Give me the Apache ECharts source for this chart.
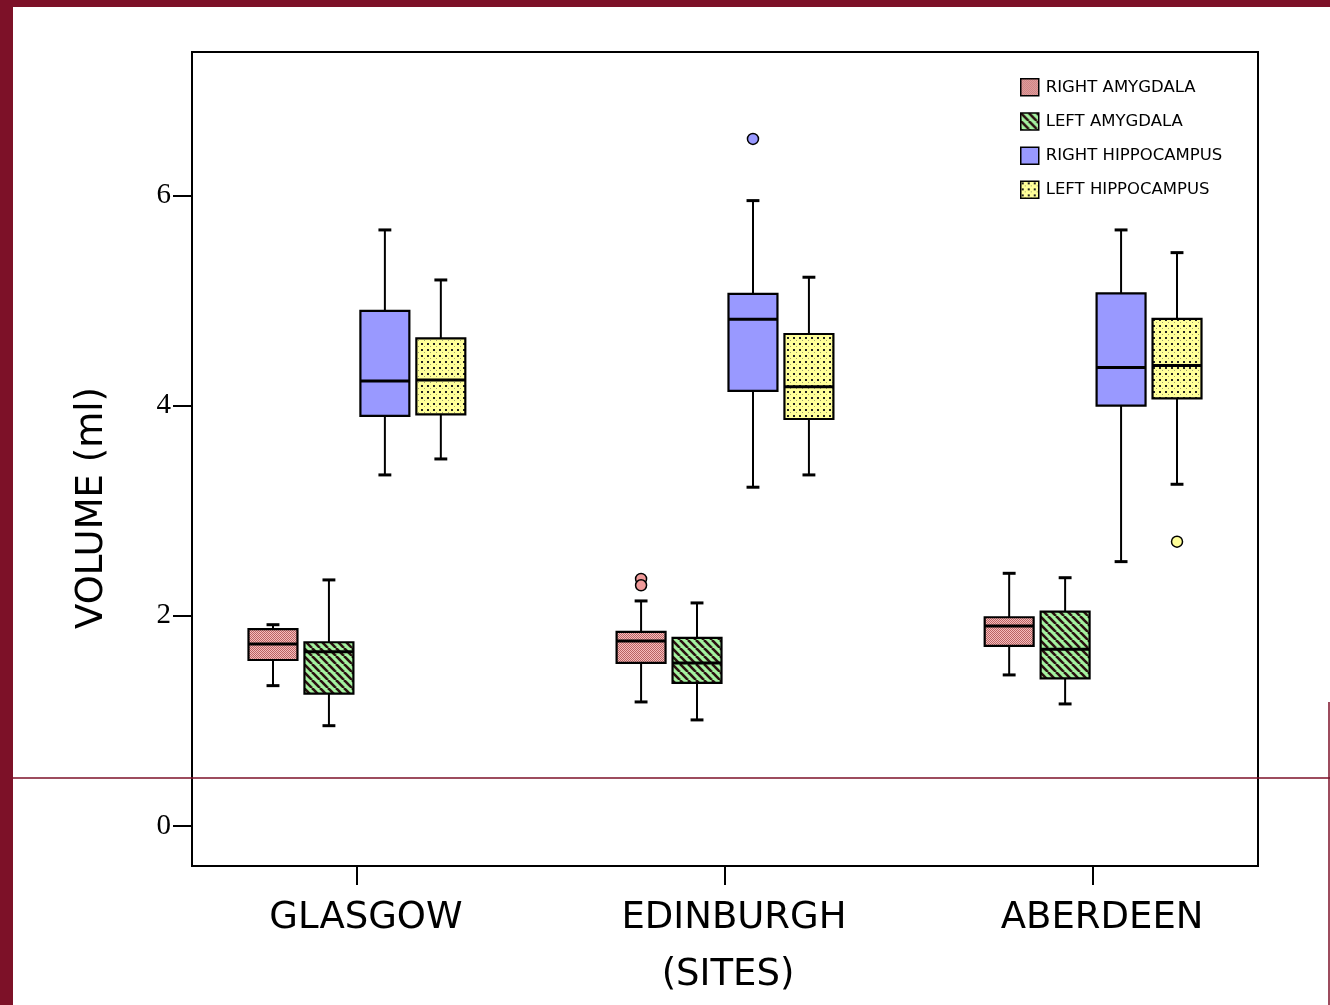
<!DOCTYPE html>
<html>
<head>
<meta charset="utf-8">
<script src="https://cdn.jsdelivr.net/npm/echarts@6/dist/echarts.min.js"></script>
<style>
  html, body { margin: 0; padding: 0; background: #fff; }
  #chart { width: 1330px; height: 1005px; }
</style>
</head>
<body>
<div id="chart"></div>
<script>
// sites on the x axis
var sites = ['GLASGOW', 'EDINBURGH', 'ABERDEEN'];
var yTicks = [0, 2, 4, 6];
var seriesNames = ['RIGHT AMYGDALA', 'LEFT AMYGDALA', 'RIGHT HIPPOCAMPUS', 'LEFT HIPPOCAMPUS'];

// per site: [low whisker, Q1, median, Q3, high whisker]
var rightAmygdala = [[1.335, 1.579, 1.732, 1.872, 1.915], [1.180, 1.551, 1.760, 1.846, 2.141], [1.437, 1.713, 1.903, 1.986, 2.404]];
var leftAmygdala = [[0.954, 1.259, 1.658, 1.748, 2.341], [1.009, 1.361, 1.551, 1.789, 2.122], [1.161, 1.405, 1.681, 2.039, 2.362]];
var rightHippocampus = [[3.340, 3.901, 4.234, 4.900, 5.671], [3.223, 4.139, 4.821, 5.062, 5.950], [2.515, 3.999, 4.361, 5.068, 5.671]];
var leftHippocampus = [[3.492, 3.917, 4.244, 4.640, 5.195], [3.340, 3.872, 4.180, 4.681, 5.221], [3.251, 4.069, 4.380, 4.824, 5.455]];

// outliers: [site index, value]
var rightAmygdalaOut = [[1, 2.35], [1, 2.29]];
var leftAmygdalaOut = [];
var rightHippocampusOut = [[1, 6.537]];
var leftHippocampusOut = [[2, 2.705]];

// layout: offset of each group inside a site, box and cap widths (x units)
var groupOffset = [-0.228, -0.076, 0.076, 0.228];
var boxWidth = 0.133;
var capWidth = 0.035;

function makePattern(size, draw) {
	var c = document.createElement('canvas');
	c.width = size; c.height = size;
	var ctx = c.getContext('2d');
	draw(ctx, size);
	return { image: c, repeat: 'repeat' };
}

var pinkFill = makePattern(2, function(ctx) {
	ctx.fillStyle = '#f6bcbc'; ctx.fillRect(0, 0, 2, 2);
	ctx.fillStyle = '#b86464'; ctx.fillRect(0, 0, 1, 1); ctx.fillRect(1, 1, 1, 1);
});
var greenFill = makePattern(8, function(ctx, s) {
	ctx.fillStyle = '#a4f2a0'; ctx.fillRect(0, 0, s, s);
	ctx.strokeStyle = '#2a1010'; ctx.lineWidth = 2.6;
	for (var k = -s; k <= s; k += s) {
		ctx.beginPath(); ctx.moveTo(k, 0); ctx.lineTo(k + s, s); ctx.stroke();
	}
});
var blueFill = '#9999ff';
var yellowFill = makePattern(6, function(ctx, s) {
	ctx.fillStyle = '#ffff99'; ctx.fillRect(0, 0, s, s);
	ctx.fillStyle = '#222'; ctx.fillRect(1, 1, 2, 2);
	ctx.fillStyle = '#a0a070'; ctx.fillRect(4, 4, 1, 1);
});
var fills = [pinkFill, greenFill, blueFill, yellowFill];
var dotColors = ['#f09a9a', '#a4f2a0', '#9999ff', '#ffff99'];

var boxData = [rightAmygdala, leftAmygdala, rightHippocampus, leftHippocampus];
var outData = [rightAmygdalaOut, leftAmygdalaOut, rightHippocampusOut, leftHippocampusOut];

function boxRenderer(g) {
	return function(params, api) {
		var x = api.value(0) + groupOffset[g];
		var half = api.size([boxWidth, 0])[0] / 2;
		var cap = api.size([capWidth, 0])[0] / 2;
		var low = api.coord([x, api.value(1)]);
		var q1 = api.coord([x, api.value(2)]);
		var med = api.coord([x, api.value(3)]);
		var q3 = api.coord([x, api.value(4)]);
		var high = api.coord([x, api.value(5)]);
		var line = { stroke: '#000', lineWidth: 2 };
		return {
			type: 'group',
			children: [
				{ type: 'line', shape: { x1: low[0], y1: low[1], x2: q1[0], y2: q1[1] }, style: line },
				{ type: 'line', shape: { x1: q3[0], y1: q3[1], x2: high[0], y2: high[1] }, style: line },
				{ type: 'line', shape: { x1: low[0] - cap, y1: low[1], x2: low[0] + cap, y2: low[1] }, style: { stroke: '#000', lineWidth: 3 } },
				{ type: 'line', shape: { x1: high[0] - cap, y1: high[1], x2: high[0] + cap, y2: high[1] }, style: { stroke: '#000', lineWidth: 3 } },
				{ type: 'rect', shape: { x: q3[0] - half, y: q3[1], width: half * 2, height: q1[1] - q3[1] },
					style: { fill: fills[g], stroke: '#000', lineWidth: 2.2 } },
				{ type: 'line', shape: { x1: med[0] - half, y1: med[1], x2: med[0] + half, y2: med[1] }, style: { stroke: '#000', lineWidth: 3 } }
			]
		};
	};
}

var series = [];
for (var i = 0; i < 4; i++) {
	series.push({
		name: seriesNames[i],
		type: 'custom',
		renderItem: boxRenderer(i),
		itemStyle: { color: fills[i] },
		encode: { x: 0, y: [1, 2, 3, 4, 5] },
		data: boxData[i].map(function(b, s) { return [s].concat(b); })
	});
	series.push({
		name: seriesNames[i],
		type: 'scatter',
		symbol: 'circle',
		symbolSize: 11,
		itemStyle: { color: dotColors[i], borderColor: '#000', borderWidth: 1.5, opacity: 1 },
		data: outData[i].map(function(o) { return [o[0] + groupOffset[i], o[1]]; })
	});
}

var maroon = '#7d1128';
var chart = echarts.init(document.getElementById('chart'));
chart.setOption({
	animation: false,
	backgroundColor: '#fff',
	grid: { left: 192, top: 52, width: 1066, height: 814, show: true, borderColor: '#000', borderWidth: 2 },
	legend: {
		orient: 'vertical',
		left: 1020,
		top: 78,
		padding: 0,
		itemWidth: 18,
		itemHeight: 17,
		itemGap: 15.7,
		selectedMode: false,
		textStyle: { fontFamily: 'DejaVu Sans', fontSize: 16.5, color: '#000', padding: [0, 0, 0, 2] },
		data: seriesNames.map(function(n, i) {
			return { name: n, icon: 'rect', itemStyle: { color: fills[i], borderColor: '#000', borderWidth: 1.5 } };
		})
	},
	xAxis: {
		type: 'value',
		min: -0.448,
		max: 2.448,
		name: '(SITES)',
		nameLocation: 'middle',
		nameGap: 91,
		nameTextStyle: { fontFamily: 'DejaVu Sans', fontSize: 37, color: '#000', padding: [0, 0, 0, 6] },
		axisLine: { show: false, onZero: false },
		splitLine: { show: false },
		axisTick: { show: true, length: 19, customValues: [0, 1, 2], lineStyle: { color: '#000', width: 2 } },
		axisLabel: {
			customValues: [0, 1, 2],
			margin: 34,
			padding: [0, 0, 0, 18],
			fontFamily: 'DejaVu Sans',
			fontSize: 37,
			color: '#000',
			formatter: function(v) { return sites[Math.round(v)]; }
		}
	},
	yAxis: {
		type: 'value',
		min: -0.381,
		max: 7.364,
		axisLine: { show: false, onZero: false },
		splitLine: { show: false },
		axisTick: { show: true, length: 19, customValues: yTicks, lineStyle: { color: '#000', width: 2 } },
		axisLabel: {
			customValues: yTicks,
			margin: 21,
			padding: [16, 0, 0, 0],
			fontFamily: 'Liberation Serif',
			fontSize: 29,
			color: '#000'
		}
	},
	graphic: [
		{ type: 'text', x: 92, y: 508, rotation: Math.PI / 2,
			style: { text: 'VOLUME (ml)', fontFamily: 'DejaVu Sans', fontSize: 37, fill: '#000', align: 'center', verticalAlign: 'middle' } },
		{ type: 'rect', z: 100, shape: { x: 0, y: 0, width: 1330, height: 7 }, style: { fill: maroon } },
		{ type: 'rect', z: 100, shape: { x: 0, y: 0, width: 13, height: 1005 }, style: { fill: maroon } },
		{ type: 'line', z: 100, shape: { x1: 13, y1: 778, x2: 1330, y2: 778 }, style: { stroke: maroon, lineWidth: 1.5 } },
		{ type: 'line', z: 100, shape: { x1: 1329, y1: 702, x2: 1329, y2: 1005 }, style: { stroke: maroon, lineWidth: 1.5 } }
	],
	series: series
});
</script>
</body>
</html>
